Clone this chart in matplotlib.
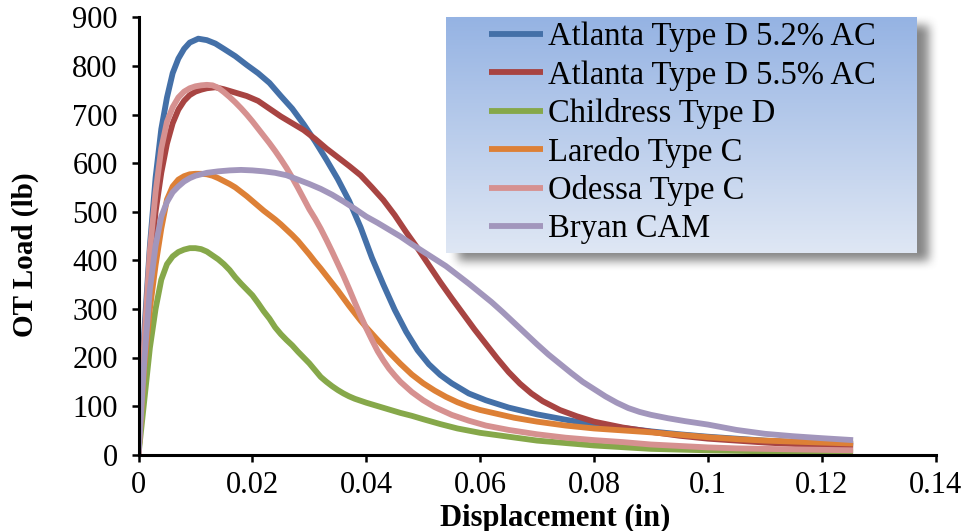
import numpy as np
import matplotlib
matplotlib.use('Agg')
import matplotlib.pyplot as plt

plt.rcParams['font.family'] = ['Liberation Serif', 'DejaVu Serif']

# ---------------- data ----------------
labels = ["Atlanta Type D 5.2% AC", "Atlanta Type D 5.5% AC", "Childress Type D",
          "Laredo Type C", "Odessa Type C", "Bryan CAM"]
colors = ["#4470a8", "#a84442", "#86a84a", "#dd8036", "#d69190", "#a296bc"]

x_atl52 = [0, 0.001, 0.002, 0.003, 0.004, 0.005, 0.006, 0.007, 0.008, 0.009, 0.0105, 0.012,
           0.0135, 0.015, 0.017, 0.019, 0.021, 0.023, 0.025, 0.027, 0.029, 0.031, 0.033, 0.035,
           0.037, 0.039, 0.041, 0.043, 0.045, 0.047, 0.049, 0.051, 0.053, 0.055, 0.058, 0.061,
           0.065, 0.070, 0.075, 0.080, 0.085, 0.090, 0.095, 0.100, 0.105, 0.110, 0.115, 0.120, 0.1255]
load_atl52 = [0, 250, 430, 570, 670, 735, 785, 815, 835, 848, 856, 853,
              846, 835, 820, 802, 785, 765, 738, 712, 680, 645, 607, 567,
              522, 468, 405, 350, 298, 253, 215, 186, 164, 147, 126, 112,
              97, 83, 72, 62, 55, 48, 42, 37, 33, 29, 26, 23, 21]

x_atl55 = [0, 0.001, 0.002, 0.003, 0.004, 0.005, 0.006, 0.007, 0.008, 0.009, 0.010, 0.011,
           0.012, 0.0135, 0.015, 0.017, 0.019, 0.021, 0.023, 0.025, 0.027, 0.029, 0.031, 0.033,
           0.035, 0.037, 0.039, 0.041, 0.043, 0.045, 0.047, 0.049, 0.051, 0.053, 0.055, 0.057,
           0.059, 0.061, 0.063, 0.065, 0.067, 0.069, 0.071, 0.074, 0.077, 0.080, 0.085, 0.090,
           0.095, 0.100, 0.105, 0.110, 0.115, 0.120, 0.1255]
load_atl55 = [0, 200, 380, 500, 580, 640, 682, 710, 728, 740, 747, 751,
              754, 756, 752, 745, 738, 728, 712, 696, 682, 668, 650, 630,
              612, 594, 575, 550, 524, 493, 458, 425, 390, 355, 322, 290,
              258, 228, 198, 170, 146, 126, 110, 92, 79, 68, 56, 47,
              39, 33, 29, 25, 22, 20, 18]

x_childress = [0, 0.001, 0.002, 0.003, 0.004, 0.005, 0.006, 0.007, 0.008, 0.009, 0.010, 0.011,
               0.012, 0.013, 0.014, 0.015, 0.016, 0.017, 0.018, 0.019, 0.020, 0.021, 0.022, 0.023,
               0.024, 0.025, 0.026, 0.027, 0.028, 0.029, 0.030, 0.031, 0.032, 0.033, 0.034, 0.035,
               0.036, 0.037, 0.038, 0.040, 0.042, 0.044, 0.046, 0.048, 0.050, 0.053, 0.056, 0.060,
               0.065, 0.070, 0.075, 0.080, 0.090, 0.100, 0.110, 0.120, 0.1255]
load_childress = [0, 110, 220, 300, 360, 392, 408, 417, 422, 425, 425, 423,
                  418, 410, 402, 392, 380, 365, 352, 340, 328, 312, 295, 280,
                  262, 248, 236, 225, 212, 200, 188, 174, 160, 150, 141, 133,
                  126, 120, 115, 107, 100, 93, 86, 80, 73, 63, 54, 45,
                  37, 29, 24, 19, 12, 9, 7, 6, 5]

x_laredo = [0, 0.001, 0.002, 0.003, 0.004, 0.005, 0.006, 0.007, 0.008, 0.009, 0.010, 0.011,
            0.012, 0.013, 0.014, 0.015, 0.016, 0.017, 0.018, 0.019, 0.020, 0.021, 0.022, 0.023,
            0.024, 0.025, 0.026, 0.027, 0.028, 0.029, 0.030, 0.031, 0.032, 0.033, 0.034, 0.035,
            0.036, 0.037, 0.038, 0.039, 0.040, 0.042, 0.044, 0.046, 0.048, 0.050, 0.052, 0.054,
            0.056, 0.058, 0.060, 0.063, 0.066, 0.070, 0.075, 0.080, 0.085, 0.090, 0.095, 0.100,
            0.105, 0.110, 0.115, 0.120, 0.1255]
load_laredo = [0, 180, 300, 390, 465, 525, 552, 566, 573, 577, 578, 578,
               577, 574, 569, 563, 557, 550, 541, 532, 522, 512, 502, 493,
               484, 474, 463, 452, 440, 426, 412, 397, 383, 368, 353, 338,
               322, 306, 291, 276, 262, 236, 211, 187, 165, 147, 132, 119,
               108, 99, 92, 84, 76, 68, 60, 54, 50, 46, 41, 36,
               32, 29, 27, 25, 23]

x_odessa = [0, 0.001, 0.002, 0.003, 0.004, 0.005, 0.006, 0.007, 0.008, 0.009, 0.010, 0.011,
            0.012, 0.013, 0.014, 0.015, 0.016, 0.017, 0.018, 0.019, 0.020, 0.021, 0.022, 0.023,
            0.024, 0.025, 0.026, 0.027, 0.028, 0.029, 0.030, 0.031, 0.032, 0.033, 0.034, 0.035,
            0.036, 0.037, 0.038, 0.039, 0.040, 0.041, 0.042, 0.043, 0.044, 0.045, 0.046, 0.048,
            0.050, 0.052, 0.055, 0.058, 0.061, 0.065, 0.070, 0.075, 0.080, 0.085, 0.090, 0.095,
            0.100, 0.105, 0.110, 0.115, 0.120, 0.1255]
load_odessa = [0, 230, 420, 540, 630, 685, 715, 735, 747, 754, 758, 760,
               761, 760, 755, 746, 736, 725, 713, 700, 686, 671, 656, 641,
               625, 608, 590, 570, 549, 527, 505, 486, 465, 442, 418, 393,
               368, 341, 313, 286, 260, 236, 213, 194, 177, 163, 150, 129,
               112, 98, 82, 70, 60, 51, 42, 35, 30, 26, 21, 18,
               15, 13, 12, 11, 10, 9]

x_bryan = [0, 0.001, 0.002, 0.003, 0.004, 0.005, 0.006, 0.007, 0.008, 0.009, 0.010, 0.012,
           0.014, 0.016, 0.018, 0.020, 0.022, 0.024, 0.026, 0.028, 0.030, 0.032, 0.034, 0.036,
           0.038, 0.040, 0.042, 0.044, 0.046, 0.048, 0.050, 0.052, 0.054, 0.056, 0.058, 0.060,
           0.062, 0.064, 0.066, 0.068, 0.070, 0.072, 0.074, 0.076, 0.078, 0.080, 0.082, 0.084,
           0.086, 0.088, 0.090, 0.093, 0.096, 0.100, 0.105, 0.110, 0.115, 0.120, 0.1255]
load_bryan = [0, 190, 340, 430, 490, 520, 540, 552, 562, 569, 574, 580,
              583, 585, 586, 585, 583, 580, 575, 566, 557, 547, 535, 521,
              506, 490, 477, 463, 449, 433, 418, 403, 388, 370, 352, 333,
              314, 293, 271, 249, 227, 206, 187, 168, 150, 135, 120, 107,
              96, 88, 82, 75, 69, 62, 51, 43, 38, 34, 30]

xs = [x_atl52, x_atl55, x_childress, x_laredo, x_odessa, x_bryan]
ys = [load_atl52, load_atl55, load_childress, load_laredo, load_odessa, load_bryan]

x_ticks = [0, 0.02, 0.04, 0.06, 0.08, 0.10, 0.12, 0.14]
x_ticklabels = ["0", "0.02", "0.04", "0.06", "0.08", "0.1", "0.12", "0.14"]
y_ticks = [0, 100, 200, 300, 400, 500, 600, 700, 800, 900]

# ---------------- figure ----------------
W, H = 967, 531
fig = plt.figure(figsize=(W / 100, H / 100), dpi=100)


def box(l, t, r, b):
    return [l / W, 1 - b / H, (r - l) / W, (b - t) / H]


ax = fig.add_axes(box(138.5, 17.3, 935.7, 454.7))
handles = []
for x, y, c, lab in zip(xs, ys, colors, labels):
    h, = ax.plot(x, y, color=c, lw=4.2, solid_capstyle='butt', solid_joinstyle='round', label=lab)
    handles.append(h)

ax.set_xlim(0, 0.14)
ax.set_ylim(0, 900)
ax.set_xticks(x_ticks)
ax.set_xticklabels(x_ticklabels)
ax.set_yticks(y_ticks)
for s in ['top', 'right']:
    ax.spines[s].set_visible(False)
for s in ['left', 'bottom']:
    ax.spines[s].set_linewidth(2.2)
ax.tick_params(direction='out', length=5, width=1.8, labelsize=22)
ax.tick_params(axis='x', pad=7)
ax.tick_params(axis='y', pad=10)
ax.set_xlabel("Displacement (in)", fontsize=22, fontweight='bold')
ax.xaxis.set_label_coords((555 - 138.5) / 797.2, (454.7 - 518) / 437.4)
ax.xaxis.label.set_va('center')
ax.set_ylabel("OT Load (lb)", fontsize=21, fontweight='bold')
ax.yaxis.set_label_coords((25 - 138.5) / 797.2, (454.7 - 255) / 437.4)
ax.yaxis.label.set_va('center')

# ---------------- legend box: shadow + gradient ----------------
L, T, R, B = 446, 17, 917, 253
off_x, off_y, blur = 12, 8, 5
pad = 3 * blur
sh_ax = fig.add_axes(box(L + off_x - pad, T + off_y - pad, R + off_x + pad, B + off_y + pad), zorder=1)
sw, shh = (R - L) + 2 * pad, (B - T) + 2 * pad
mask = np.zeros((shh, sw))
mask[pad:pad + (B - T), pad:pad + (R - L)] = 1.0
k = np.ones(2 * blur + 1) / (2 * blur + 1)
for _ in range(2):
    mask = np.apply_along_axis(lambda r: np.convolve(r, k, mode='same'), 1, mask)
    mask = np.apply_along_axis(lambda c: np.convolve(c, k, mode='same'), 0, mask)
rgba = np.zeros((shh, sw, 4))
rgba[..., :3] = 0.45
rgba[..., 3] = mask * 0.85
sh_ax.imshow(rgba, aspect='auto', interpolation='bilinear')
sh_ax.axis('off')

gr_ax = fig.add_axes(box(L, T, R, B), zorder=2)
top = np.array([0x95, 0xb3, 0xe3]) / 255
bot = np.array([0xdf, 0xe7, 0xf4]) / 255
t = np.linspace(0, 1, 256)[:, None]
grad = (top[None, :] * (1 - t) + bot[None, :] * t)[:, None, :]
gr_ax.imshow(grad, aspect='auto', interpolation='bilinear')
gr_ax.axis('off')

leg = fig.legend(handles, labels, loc='upper left', bbox_to_anchor=(489 / W, 1 - 22 / H),
                 frameon=False, fontsize=23.5, handlelength=1.66, handletextpad=0.15,
                 labelspacing=0.23, borderpad=0, borderaxespad=0)
leg.set_zorder(5)

fig.savefig("out.png", dpi=100)
